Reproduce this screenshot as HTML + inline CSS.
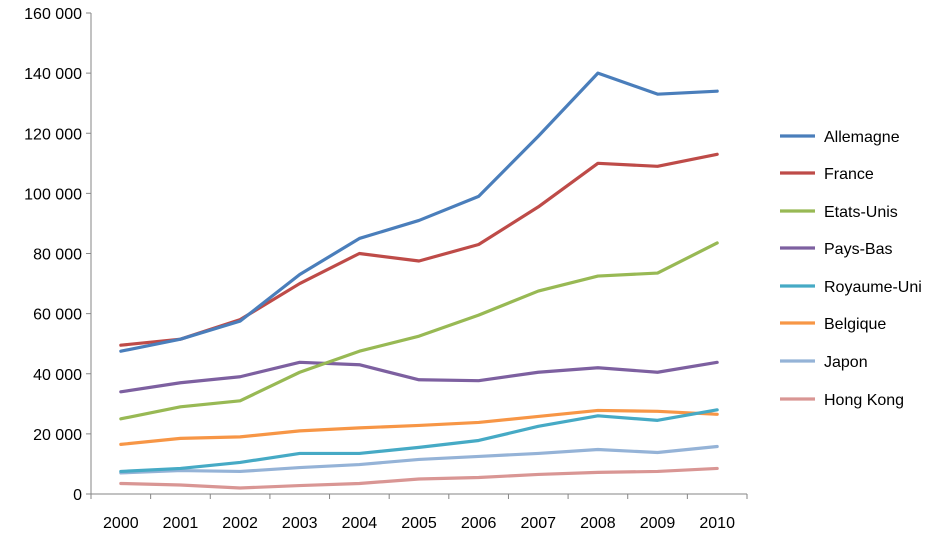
<!DOCTYPE html>
<html><head><meta charset="utf-8"><style>
html,body{margin:0;padding:0;background:#fff}
svg{display:block;font-family:"Liberation Sans",sans-serif}
</style></head><body>
<svg id="c" width="947" height="534" viewBox="0 0 947 534" xmlns="http://www.w3.org/2000/svg"></svg>
<script>
const s=document.getElementById('c');
const NS='http://www.w3.org/2000/svg';
function el(t,a,txt){const e=document.createElementNS(NS,t);for(const k in a)e.setAttribute(k,a[k]);if(txt!==undefined)e.textContent=txt;s.appendChild(e);return e;}
const x0=91,x1=747,y0=494,yTop=13;
const step=(x1-x0)/11;
const X=i=>x0+step*(i+0.5);
const Y=v=>y0-v*(y0-yTop)/160000;
// axes
el('line',{x1:x0,y1:yTop,x2:x0,y2:y0,stroke:'#868686','stroke-width':1});
el('line',{x1:x0,y1:y0,x2:x1,y2:y0,stroke:'#868686','stroke-width':1});
for(let v=0;v<=160000;v+=20000){
  const y=Y(v);
  el('line',{x1:x0-5,y1:y,x2:x0,y2:y,stroke:'#868686'});
  const t=v===0?'0':(Math.floor(v/1000)+'\u202f000').replace('\u202f',' ');
  el('text',{x:82,y:y+6,'text-anchor':'end','font-size':'16',fill:'#000'},t);
}
for(let i=0;i<=11;i++){const x=x0+step*i;el('line',{x1:x,y1:y0,x2:x,y2:y0+5,stroke:'#868686'});}
for(let i=0;i<11;i++)el('text',{x:X(i),y:528,'text-anchor':'middle','font-size':'16',fill:'#000'},String(2000+i));
const series=[
['Allemagne','#4A7EBB',[47500,51500,57500,73000,85000,91000,99000,119000,140000,133000,134000]],
['France','#BE4B48',[49500,51500,58000,70000,80000,77500,83000,95500,110000,109000,113000]],
['Etats-Unis','#98B954',[25000,29000,31000,40500,47500,52500,59500,67500,72500,73500,83500]],
['Pays-Bas','#7D60A0',[34000,37000,39000,43800,43000,38000,37700,40500,42000,40500,43800]],
['Royaume-Uni','#46AAC5',[7500,8500,10500,13500,13500,15500,17800,22500,26000,24500,28000]],
['Belgique','#F79646',[16500,18500,19000,21000,22000,22800,23800,25800,27800,27500,26500]],
['Japon','#95B3D7',[7000,7800,7500,8800,9800,11500,12500,13500,14800,13800,15800]],
['Hong Kong','#D99694',[3500,3000,2000,2800,3500,5000,5500,6500,7200,7500,8500]]
];
const ly=[136,173,211,248,286,323,361,399];
for(let k=series.length-1;k>=0;k--){
  const [n,c,d]=series[k];
  el('polyline',{points:d.map((v,i)=>X(i)+','+Y(v)).join(' '),fill:'none',stroke:c,'stroke-width':3.2,'stroke-linejoin':'round','stroke-linecap':'round'});
}
series.forEach(([n,c],k)=>{
  el('line',{x1:780,y1:ly[k],x2:815,y2:ly[k],stroke:c,'stroke-width':3.2});
  el('text',{x:824,y:ly[k]+6,'font-size':'16',fill:'#000'},n);
});
</script>
</body></html>
